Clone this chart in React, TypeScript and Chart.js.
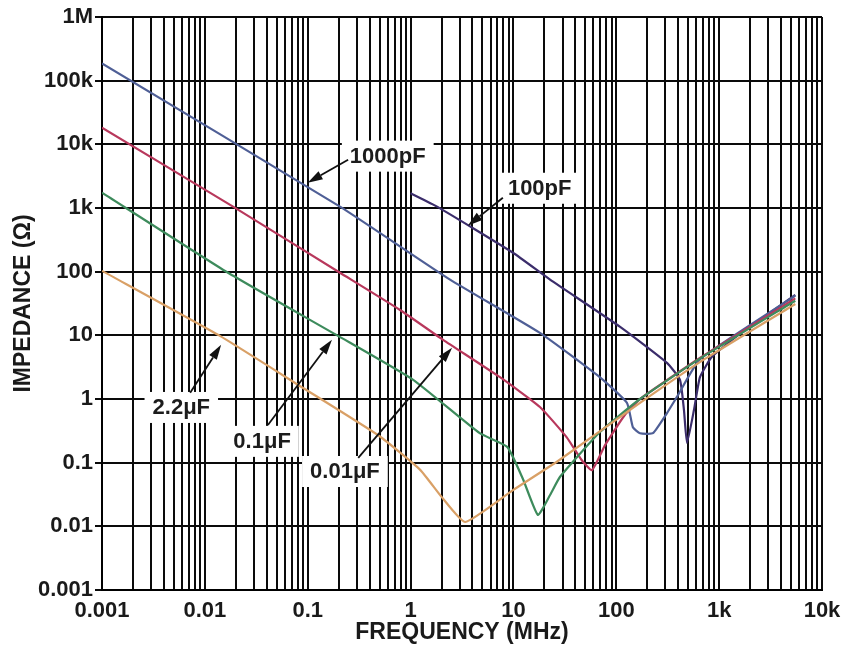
import React, { useEffect, useRef } from "react";
import { Chart, registerables } from "chart.js";

Chart.register(...registerables);

// ---- axis ticks ----
const freqTickValues = [0.001, 0.01, 0.1, 1, 10, 100, 1000, 10000];
const freqTickLabels = ["0.001", "0.01", "0.1", "1", "10", "100", "1k", "10k"];
const impTickValues = [0.001, 0.01, 0.1, 1, 10, 100, 1000, 10000, 100000, 1000000];
const impTickLabels = ["0.001", "0.01", "0.1", "1", "10", "100", "1k", "10k", "100k", "1M"];
const minorMultipliers = [1, 2, 3, 4, 5, 6, 7, 8, 9];

// ---- series (frequency MHz, impedance ohm) ----
const c22uF_f = [0.001, 0.014, 0.084, 0.5, 1.24, 2.0, 3.4, 9.9, 28, 170, 650, 5500];
const c22uF_z = [103, 9.8, 1.6, 0.26, 0.077, 0.029, 0.0117, 0.037, 0.11, 0.87, 3.8, 31];

const c01uF_f = [0.001, 0.0168, 0.197, 1.06, 4.7, 8.7, 12.4, 17.3, 22.7, 28.4, 69, 170, 650, 5500];
const c01uF_z = [1740, 96, 9.8, 2.0, 0.29, 0.177, 0.055, 0.0151, 0.031, 0.06, 0.3, 1.0, 4.3, 35];

const c001uF_f = [0.001, 0.0188, 0.206, 0.79, 2.07, 7.4, 18.1, 33, 46, 58, 78, 120, 170, 650, 5500];
const c001uF_z = [18300, 1050, 96, 25, 8.5, 2.2, 0.75, 0.25, 0.11, 0.076, 0.19, 0.55, 1.0, 4.4, 38];

const c1000pF_f = [0.001, 0.206, 2.42, 18.1, 69, 127, 145, 170, 227, 311, 389, 650, 5500];
const c1000pF_z = [186000, 1050, 75, 10.9, 2.2, 0.87, 0.36, 0.29, 0.29, 0.6, 1.08, 4.2, 42];

const c100pF_f = [1.0, 1.81, 9.9, 22.7, 109, 311, 416, 455, 487, 569, 651, 851, 1600, 5500];
const c100pF_z = [1700, 1050, 198, 75, 13.6, 3.7, 2.0, 0.67, 0.204, 0.67, 2.2, 4.6, 10.6, 43];

// ---- annotations (data coordinates) ----
const noteLabels = ["1000pF", "100pF", "2.2\u03bcF", "0.1\u03bcF", "0.01\u03bcF"];
const noteTextF = [0.6, 18, 0.0059, 0.036, 0.23];
const noteTextZ = [6640, 2080, 0.75, 0.22, 0.074];
const noteTailF = [0.247, 7.9, 0.0072, 0.041, 0.31];
const noteTailZ = [5740, 1450, 1.25, 0.39, 0.119];
const noteTipF = [0.1, 3.6, 0.0144, 0.172, 2.53];
const noteTipZ = [2500, 527, 7.1, 8.5, 6.4];

const FONT = '"Liberation Sans", Arial, Helvetica, sans-serif';

function pairs(f: number[], z: number[]) {
  return f.map((v, i) => ({ x: v, y: z[i] }));
}

function labelFor(v: number, vals: number[], labels: string[]) {
  for (let i = 0; i < vals.length; i++) {
    if (Math.abs(Math.log10(v) - Math.log10(vals[i])) < 1e-6) return labels[i];
  }
  return "";
}

const notesPlugin = {
  id: "notes",
  beforeDatasetsDraw(chart: any) {
    const { ctx, scales } = chart;
    const x = scales.x, y = scales.y;
    ctx.save();
    ctx.font = `bold 22px ${FONT}`;
    ctx.fillStyle = "#ffffff";
    noteLabels.forEach((t, i) => {
      const cx = x.getPixelForValue(noteTextF[i]);
      const cy = y.getPixelForValue(noteTextZ[i]);
      const w = ctx.measureText(t).width;
      ctx.fillRect(cx - w / 2 - 8, cy - 15, w + 16, 31);
    });
    ctx.restore();
  },
  afterDatasetsDraw(chart: any) {
    const { ctx, scales } = chart;
    const x = scales.x, y = scales.y;
    ctx.save();
    ctx.font = `bold 22px ${FONT}`;
    ctx.textAlign = "center";
    ctx.textBaseline = "middle";
    noteLabels.forEach((t, i) => {
      const cx = x.getPixelForValue(noteTextF[i]);
      const cy = y.getPixelForValue(noteTextZ[i]);
      ctx.fillStyle = "#1c1c1c";
      ctx.fillText(t, cx, cy + 1);
      const x0 = x.getPixelForValue(noteTailF[i]);
      const y0 = y.getPixelForValue(noteTailZ[i]);
      const x1 = x.getPixelForValue(noteTipF[i]);
      const y1 = y.getPixelForValue(noteTipZ[i]);
      const ang = Math.atan2(y1 - y0, x1 - x0);
      const hl = 15, hw = 4.5;
      const bx = x1 - hl * Math.cos(ang), by = y1 - hl * Math.sin(ang);
      ctx.strokeStyle = "#111";
      ctx.lineWidth = 1.8;
      ctx.beginPath();
      ctx.moveTo(x0, y0);
      ctx.lineTo(bx, by);
      ctx.stroke();
      ctx.fillStyle = "#111";
      ctx.beginPath();
      ctx.moveTo(x1, y1);
      ctx.lineTo(bx + hw * Math.sin(ang), by - hw * Math.cos(ang));
      ctx.lineTo(bx - hw * Math.sin(ang), by + hw * Math.cos(ang));
      ctx.closePath();
      ctx.fill();
    });
    ctx.restore();
  },
};

export default function App() {
  const ref = useRef<HTMLCanvasElement>(null);
  useEffect(() => {
    document.body.style.margin = "0";
    const canvas = ref.current;
    if (!canvas) return;
    const gridValues: number[] = [];
    for (let i = 0; i < freqTickValues.length - 1; i++) {
      for (const m of minorMultipliers) gridValues.push(freqTickValues[i] * m);
    }
    gridValues.push(freqTickValues[freqTickValues.length - 1]);

    const mk = (label: string, f: number[], z: number[], color: string) => ({
      label,
      data: pairs(f, z),
      borderColor: color,
      backgroundColor: color,
      borderWidth: 2.2,
      pointRadius: 0,
      tension: 0.15,
      fill: false,
    });

    const tickFont = { family: FONT, size: 22, weight: "bold" as const };
    const chart = new Chart(canvas, {
      type: "line",
      data: {
        datasets: [
          mk("2.2\u03bcF", c22uF_f, c22uF_z, "#d9a066"),
          mk("0.1\u03bcF", c01uF_f, c01uF_z, "#3d8b5c"),
          mk("0.01\u03bcF", c001uF_f, c001uF_z, "#b8385c"),
          mk("1000pF", c1000pF_f, c1000pF_z, "#4f5f96"),
          mk("100pF", c100pF_f, c100pF_z, "#3b2d6b"),
        ],
      },
      options: {
        responsive: false,
        animation: false,
        devicePixelRatio: 1,
        layout: { padding: { top: 17, right: 21, left: 0, bottom: 0 } },
        plugins: { legend: { display: false }, tooltip: { enabled: false } },
        scales: {
          x: {
            type: "logarithmic",
            min: 0.001,
            max: 10000,
            afterBuildTicks: (s: any) => {
              s.ticks = gridValues.map((v) => ({ value: v }));
            },
            afterFit: (s: any) => {
              s.height = 69;
              s.paddingLeft = 0;
              s.paddingRight = 0;
            },
            ticks: {
              autoSkip: false,
              maxRotation: 0,
              minRotation: 0,
              padding: 8,
              color: "#1a1a1a",
              font: tickFont,
              callback: (v: any) => labelFor(Number(v), freqTickValues, freqTickLabels),
            },
            grid: { color: "#0a0a0a", lineWidth: 2, drawTicks: false },
            border: { color: "#000", width: 2 },
            title: {
              display: true,
              text: "FREQUENCY (MHz)",
              color: "#1a1a1a",
              font: { family: FONT, size: 23, weight: "bold" },
              padding: { top: 0, bottom: 13 },
            },
          },
          y: {
            type: "logarithmic",
            min: 0.001,
            max: 1000000,
            afterBuildTicks: (s: any) => {
              s.ticks = impTickValues.map((v) => ({ value: v }));
            },
            afterFit: (s: any) => {
              s.width = 102;
              s.paddingTop = 0;
              s.paddingBottom = 0;
            },
            ticks: {
              autoSkip: false,
              padding: 2,
              color: "#1a1a1a",
              font: tickFont,
              callback: (v: any) => labelFor(Number(v), impTickValues, impTickLabels),
            },
            grid: { color: "#0a0a0a", lineWidth: 2, tickLength: 7 },
            border: { color: "#000", width: 2 },
            title: {
              display: true,
              text: "IMPEDANCE (\u03a9)",
              color: "#1a1a1a",
              font: { family: FONT, size: 23, weight: "bold" },
              padding: { top: 10, bottom: 0 },
            },
          },
        },
      } as any,
      plugins: [notesPlugin],
    });
    return () => chart.destroy();
  }, []);
  return (
    <div style={{ width: 843, height: 659, position: "relative" }}>
      <canvas ref={ref} width={843} height={659} style={{ display: "block" }} />
    </div>
  );
}
